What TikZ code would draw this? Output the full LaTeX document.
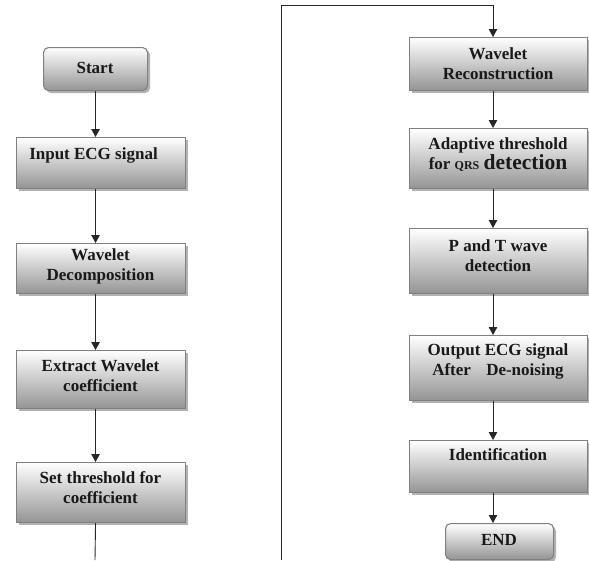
\documentclass[tikz,border=0pt]{standalone}
\usepackage{fontspec}
\setmainfont{Liberation Serif}
\usetikzlibrary{arrows.meta,shadows}
\begin{document}
\begin{tikzpicture}[x=1pt,y=-1pt,
  box/.style={draw=black!50, line width=1.1pt, top color=white, bottom color=black!42,
    drop shadow={shadow xshift=2.5pt,shadow yshift=-2.5pt,fill=black,opacity=0.3},
    inner sep=0pt, anchor=north west, rectangle},
  rbox/.style={box, rounded corners=5pt},
  txt/.style={font=\fontsize{17}{20}\selectfont\bfseries, align=center, inner sep=0pt, text=black!90},
  conn/.style={draw=black!85, line width=0.9pt},
  arr/.style={conn, -{Triangle[length=8pt,width=8.5pt]}}]
\useasboundingbox (0,0) rectangle (589,560);
% left column boxes
\node[rbox, minimum width=104pt, minimum height=43pt] (start) at (43,47) {};
\node[box, minimum width=169pt, minimum height=51pt] (inp) at (16,137) {};
\node[box, minimum width=169pt, minimum height=50pt] (dec) at (16,243) {};
\node[box, minimum width=169pt, minimum height=58pt] (ext) at (16,350) {};
\node[box, minimum width=169pt, minimum height=60pt] (thr) at (16,462) {};
% right column boxes
\node[box, minimum width=178pt, minimum height=53pt] (rec) at (409,37) {};
\node[box, minimum width=178pt, minimum height=60pt] (ada) at (409,128) {};
\node[box, minimum width=178pt, minimum height=65pt] (ptw) at (409,228) {};
\node[box, minimum width=178pt, minimum height=65pt] (outb) at (409,335) {};
\node[box, minimum width=178pt, minimum height=52pt] (idf) at (409,440) {};
\node[rbox, minimum width=108pt, minimum height=36pt] (endb) at (445,523) {};
% texts
\node[txt] (tstart) at (95,68) {Start};
\node[txt] (tinp) at (93.5,155) {Input ECG signal};
\node[txt] (tdec) at (100.5,266) {Wavelet\\Decomposition};
\node[txt] (text) at (100.5,376) {Extract Wavelet\\coefficient};
\node[txt] (tthr) at (100.5,488) {Set threshold for\\coefficient};
\node[txt] (trec) at (498,64) {Wavelet\\Reconstruction};
\node[txt] (tada) at (498,155) {Adaptive threshold\\for {\fontsize{12}{12}\selectfont QRS} {\fontsize{21.5}{20}\selectfont detection}};
\node[txt] (tptw) at (498,256) {P and T wave\\detection};
\node[txt] (tout) at (498,361) {Output ECG signal\\After\hspace{0.9em}De-noising};
\node[txt] (tidf) at (498,455) {Identification};
\node[txt] (tend) at (499,540) {END};
% coordinates
\coordinate (lbot) at (95,560);
\coordinate (rbot) at (281,560);
\coordinate (rtop) at (281,5);
\coordinate (ctop) at (493,5);
% connectors left
\draw[arr] (start.south) -- (inp.north -| start.south);
\draw[arr] (inp.south -| start.south) -- (dec.north -| start.south);
\draw[arr] (dec.south -| start.south) -- (ext.north -| start.south);
\draw[arr] (ext.south -| start.south) -- (thr.north -| start.south);
\draw[conn] (thr.south -| start.south) -- (lbot);
% connectors right
\draw[conn] (rbot) -- (rtop) -- (ctop);
\draw[arr] (ctop) -- (rec.north -| ctop);
\draw[arr] (rec.south -| ctop) -- (ada.north -| ctop);
\draw[arr] (ada.south -| ctop) -- (ptw.north -| ctop);
\draw[arr] (ptw.south -| ctop) -- (outb.north -| ctop);
\draw[arr] (outb.south -| ctop) -- (idf.north -| ctop);
\draw[arr] (idf.south -| ctop) -- (endb.north -| ctop);
\end{tikzpicture}
\end{document}
